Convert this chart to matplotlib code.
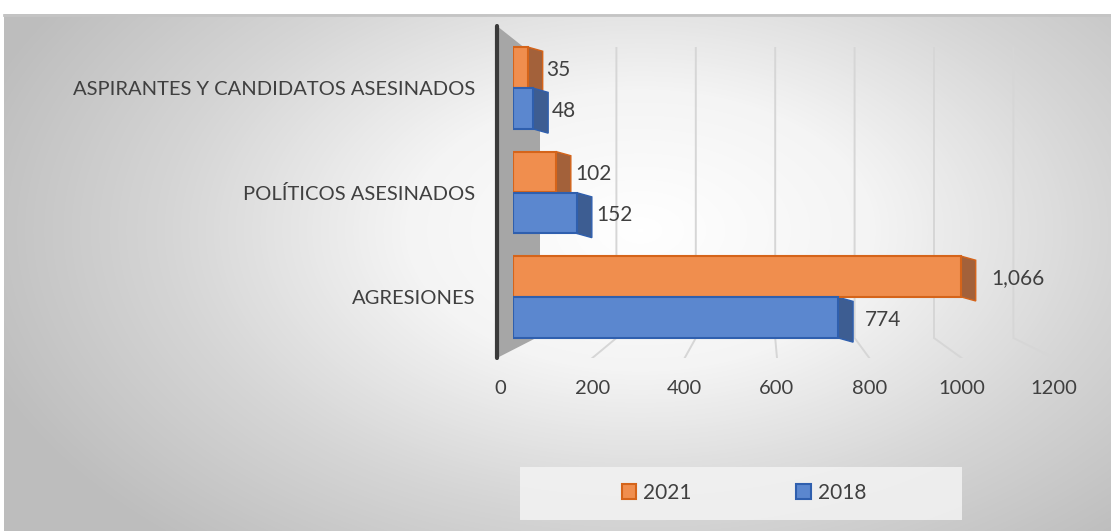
import numpy as np
import matplotlib
matplotlib.use("Agg")
import matplotlib.pyplot as plt
from matplotlib.patches import Polygon, Rectangle, Patch
from matplotlib.colors import LinearSegmentedColormap

# ---- data ----
categories = ["AGRESIONES", "POLÍTICOS ASESINADOS", "ASPIRANTES Y CANDIDATOS ASESINADOS"]
values_2021 = [1066, 102, 35]
values_2018 = [774, 152, 48]
series_names = ["2021", "2018"]
x_ticks = [0, 200, 400, 600, 800, 1000, 1200]

plt.rcParams['font.family'] = ['Lato', 'DejaVu Sans']
TXT = '#404040'

W, H = 1111, 531
fig = plt.figure(figsize=(W / 100, H / 100), dpi=100)
fig.patch.set_facecolor('white')

# ---- background radial gradient ----
bg = fig.add_axes([0, 0, 1, 1], zorder=-5)
bg.set_xlim(0, W)
bg.set_ylim(H, 0)
bg.axis('off')
yy, xx = np.mgrid[14:H, 4:W]
r = np.sqrt(((xx - 640) / 700.0) ** 2 + ((yy - 230) / 420.0) ** 2)
cmap = LinearSegmentedColormap.from_list('g', ['#ffffff', '#f4f4f4', '#d6d6d6', '#bdbdbd'])
bg.imshow(np.clip(r, 0, 1), cmap=cmap, vmin=0, vmax=1, extent=(4, W, H, 14),
          aspect='auto', interpolation='bilinear')
bg.plot([4, W], [14.5, 14.5], color='#c4c4c4', lw=2)
# side wall of the 3-D plot
bg.add_patch(Polygon([(497, 26), (540, 60), (540, 336), (497, 358)], closed=True,
                     facecolor='#a6a6a6', edgecolor='none', zorder=2))
bg.plot([497, 497], [26, 358], color='#3a3a3a', lw=3, zorder=3, solid_capstyle='round')
# legend box
bg.add_patch(Rectangle((520, 467), 442, 53, facecolor='#f3f3f3', edgecolor='none',
                       alpha=0.85, zorder=2))

ax_top, ax_bot = 25, 358
ylo = -(ax_bot - 297) / 104.5
yhi = 2 + (88 - ax_top) / 104.5

# ---- front plane axes: value ticks + floor / back gridlines ----
f0, f1 = 500, 1054
ax = fig.add_axes([f0 / W, 1 - ax_bot / H, (f1 - f0) / W, (ax_bot - ax_top) / H])
ax.set_facecolor('none')
ax.set_xlim(0, 1200)
ax.set_ylim(ylo, yhi)
for s in ax.spines.values():
    s.set_visible(False)
ax.set_xticks(x_ticks)
ax.set_xticklabels([str(t) for t in x_ticks], fontsize=14.5, color=TXT)
ax.set_yticks([])
ax.tick_params(axis='x', length=0, pad=16)
fscale = (f1 - f0) / 1200.0
y_back_top = (297 - 48) / 104.5
y_floor = -(338 - 297) / 104.5
for t in x_ticks[1:]:
    xb = (537 + 0.397 * t - f0) / fscale      # position on the back wall
    ax.plot([xb, xb, t], [y_back_top, y_floor, ylo], color='#d6d6d6', lw=1.4,
            zorder=0, solid_joinstyle='miter')

# ---- bar plane axes ----
b0, bscale = 513, 0.42
bx = fig.add_axes([b0 / W, 1 - ax_bot / H, 1200 * bscale / W, (ax_bot - ax_top) / H])
bx.set_facecolor('none')
bx.set_xlim(0, 1200)
bx.set_ylim(ylo, yhi)
for s in bx.spines.values():
    s.set_visible(False)
bx.set_xticks([])
ypos = np.arange(len(categories))
bx.set_yticks(ypos)
bx.set_yticklabels(categories, fontsize=14.5, color=TXT)
bx.tick_params(axis='y', length=0, pad=27)

h = 0.39
off = 0.197
orange_face, orange_edge, orange_side = '#f08e4e', '#d5641a', '#a3613a'
blue_face, blue_edge, blue_side = '#5b87cf', '#2f5fae', '#3d5d92'

depth = 15 / bscale   # 15 px of visible depth
skew = -0.04

def draw(vals, yc, face, edge, side):
    bx.barh(yc, vals, height=h, color=face, edgecolor=edge, linewidth=1.5, zorder=3)
    for v, y in zip(vals, yc):
        y0, y1 = y - h / 2, y + h / 2
        bx.add_patch(Polygon([(v, y0), (v + depth, y0 + skew), (v + depth, y1 + skew), (v, y1)],
                             closed=True, facecolor=side, edgecolor=edge, lw=1.0, zorder=2.5))
        gap = (3 + 0.012 * v) / bscale
        bx.text(v + depth + gap, y - 0.02, f"{v:,}", va='center', ha='left',
                fontsize=15, color=TXT, zorder=4)

draw(values_2021, ypos + off, orange_face, orange_edge, orange_side)
draw(values_2018, ypos - off, blue_face, blue_edge, blue_side)

# ---- legend ----
handles = [Patch(facecolor=orange_face, edgecolor=orange_edge, lw=1.5),
           Patch(facecolor=blue_face, edgecolor=blue_edge, lw=1.5)]
fig.legend(handles, series_names, loc='center', bbox_to_anchor=(744 / W, 1 - 493 / H),
           ncol=2, frameon=False, fontsize=15, handlelength=0.7, handleheight=0.7,
           handletextpad=0.35, columnspacing=5.0, labelcolor=TXT)

fig.savefig('out.png', dpi=100, facecolor=fig.get_facecolor())
